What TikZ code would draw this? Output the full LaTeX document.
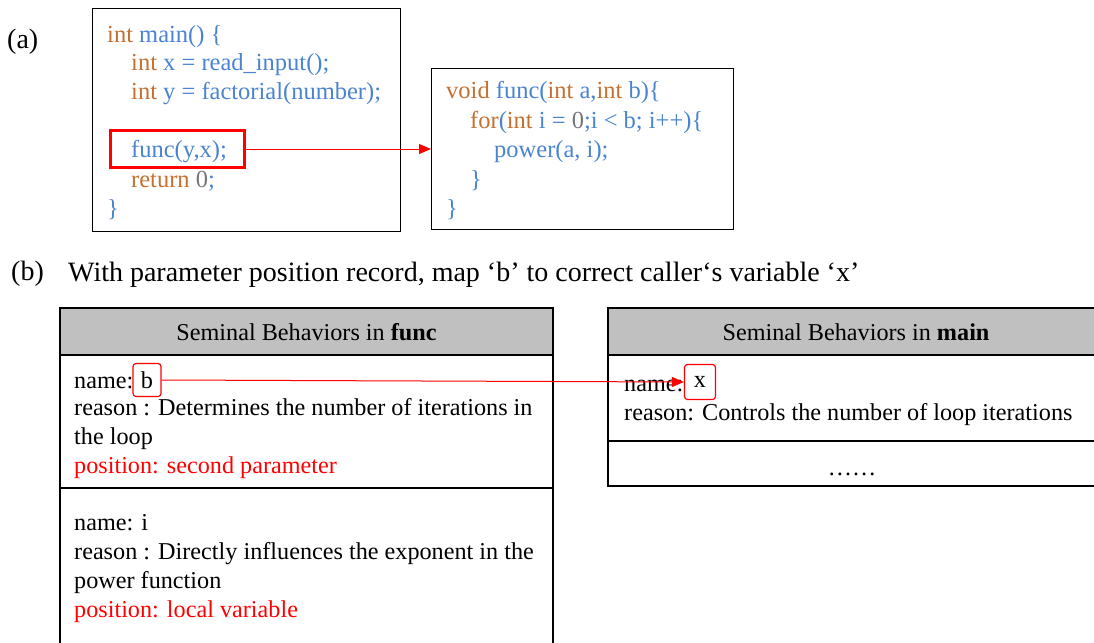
\documentclass[tikz,border=0pt]{standalone}
\usepackage{fontspec}
\setmainfont{Liberation Serif}
\usetikzlibrary{arrows.meta}
\definecolor{kwc}{RGB}{196,112,48}
\definecolor{idc}{RGB}{74,132,208}
\definecolor{numc}{RGB}{118,118,118}
\definecolor{hdr}{RGB}{192,192,192}
\newcommand{\Kw}[1]{\textcolor{kwc}{#1}}
\newcommand{\Id}[1]{\textcolor{idc}{#1}}
\newcommand{\Nm}[1]{\textcolor{numc}{#1}}
\begin{document}
\begin{tikzpicture}[x=1pt,y=-1pt,
  code/.style={anchor=west,inner sep=0pt,yshift=-2pt,font=\fontsize{24.5}{29}\selectfont},
  txt/.style={anchor=west,inner sep=0pt,yshift=-2pt,font=\fontsize{24.2}{29}\selectfont},
  big/.style={anchor=west,inner sep=0pt,yshift=-1.5pt,font=\fontsize{28}{32}\selectfont},
  codebox/.style={draw,line width=1pt,anchor=north west,inner sep=0pt},
  tbl/.style={draw,line width=1.4pt},
  redarrow/.style={red,line width=1pt,-{Triangle[length=12pt,width=10pt]}},
  tag/.style={draw=red,line width=1.2pt,rounded corners=3pt,inner sep=0pt,font=\fontsize{24.2}{29}\selectfont}]
\useasboundingbox (0,0) rectangle (1094,642);
% (a)
\node[big] (la) at (7,40) {(a)};
\node[codebox,minimum width=308pt,minimum height=223pt] (mainbox) at (92,8) {};
\node[code] (m1) at (107,35) {\strut\Kw{int} \Id{main() \{}};
\node[code] (m2) at (131,63) {\strut\Kw{int} \Id{x = read\_input();}};
\node[code] (m3) at (131,92) {\strut\Kw{int} \Id{y = factorial(number);}};
\node[code] (m4) at (131,150) {\strut\Id{func(y,x);}};
\node[code] (m5) at (131,180) {\strut\Kw{return} \Nm{0}\Id{;}};
\node[code] (m6) at (107,209) {\strut\Id{\}}};
\node[draw=red,line width=3pt,anchor=north west,minimum width=134pt,minimum height=37pt,inner sep=0pt] (hl) at (109,129) {};
\node[codebox,minimum width=302pt,minimum height=161pt] (funcbox) at (431,68) {};
\node[code] (f1) at (446,91) {\strut\Kw{void} \Id{func(}\Kw{int} \Id{a,}\Kw{int} \Id{b)\{}};
\node[code] (f2) at (470,121) {\strut\Kw{for}\Id{(}\Kw{int} \Id{i =} \Nm{0}\Id{;i < b; i++)\{}};
\node[code] (f3) at (494,150) {\strut\Id{power(a, i);}};
\node[code] (f4) at (470,180) {\strut\Id{\}}};
\node[code] (f5) at (446,209) {\strut\Id{\}}};
\draw[redarrow] (hl.east) -- (funcbox.west|-hl.east);
% (b)
\node[big] (lb) at (11,272) {(b)};
\node[big] (title) at (68,273) {With parameter position record, map ‘b’ to correct caller‘s variable ‘x’};
% func table
\draw[tbl,fill=hdr] (60,308) rectangle (553,355);
\node[font=\fontsize{24.2}{29}\selectfont] (h1) at (306.5,332) {Seminal Behaviors in \textbf{func}};
\draw[tbl] (60,355) rectangle (553,488);
\draw[tbl] (60,650) -- (60,488) -- (553,488) -- (553,650);
\node[txt] (n1) at (74,381) {\strut name:};
\node[tag,minimum width=28pt,minimum height=33pt] (bb) at (147,380) {b};
\node[txt] (r1) at (74,408) {\strut reason : Determines the number of iterations in};
\node[txt] (r1b) at (74,437) {\strut the loop};
\node[txt,text=red] (p1) at (74,466) {\strut position: second parameter};
\node[txt] (n2) at (74,523) {\strut name: i};
\node[txt] (r2) at (74,552) {\strut reason : Directly influences the exponent in the};
\node[txt] (r2b) at (74,581) {\strut power function};
\node[txt,text=red] (p2) at (74,610) {\strut position: local variable};
% main table
\draw[tbl,fill=hdr] (608,308) rectangle (1100,355);
\node[font=\fontsize{24.2}{29}\selectfont] (h2) at (856,332) {Seminal Behaviors in \textbf{main}};
\draw[tbl] (608,355) rectangle (1100,441);
\draw[tbl] (608,441) rectangle (1100,486);
\node[txt] (n3) at (624,384) {\strut name:};
\node[tag,minimum width=31pt,minimum height=35pt] (xb) at (700,382) {x};
\node[txt] (r3) at (624,413) {\strut reason: Controls the number of loop iterations};
\node[font=\fontsize{24.2}{29}\selectfont] (dots) at (852,474) {……};
\draw[redarrow] (bb.east) -- (xb.west);
\end{tikzpicture}
\end{document}
